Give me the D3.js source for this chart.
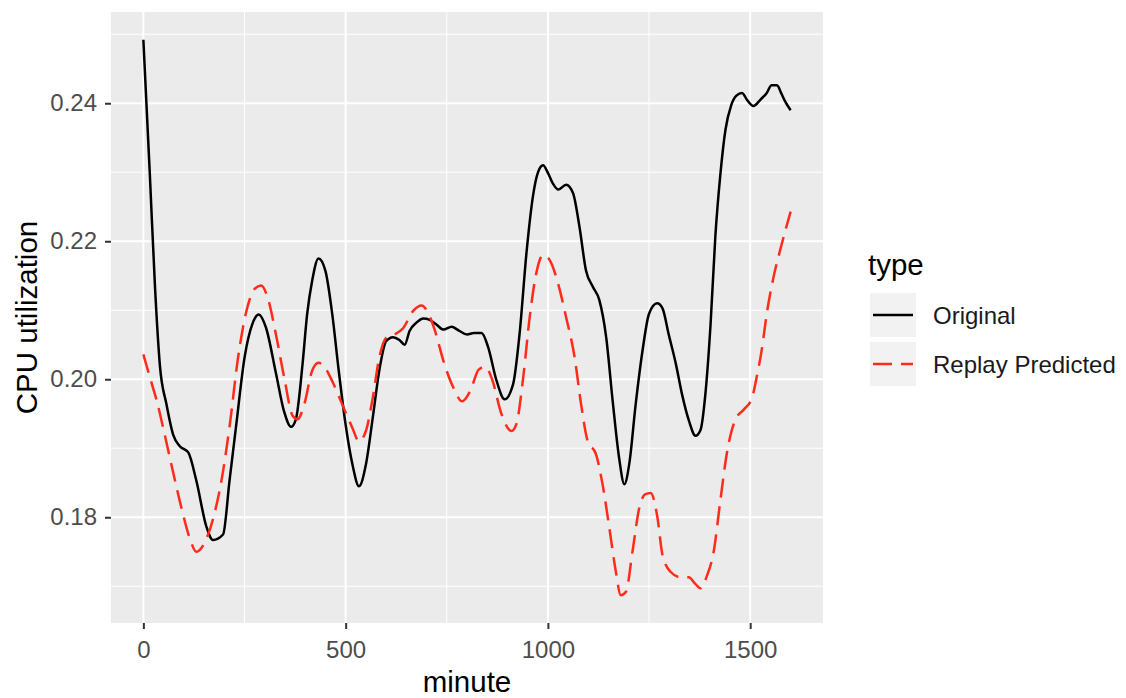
<!DOCTYPE html>
<html>
<head>
<meta charset="utf-8">
<script src="https://cdn.jsdelivr.net/npm/d3@7"></script>
<style>
  body { margin: 0; background: #fff; }
  text { font-family: "Liberation Sans", Arial, sans-serif; }
</style>
</head>
<body>
<div id="wrapper"></div>
<script>
// minute, CPU utilization
const original = [
  [0, 0.2492], [16, 0.2297], [29, 0.2131], [41, 0.2019], [57, 0.1964], [74, 0.1919],
  [90, 0.1903], [111, 0.1894], [131, 0.1853], [156, 0.1786], [172, 0.1767], [197, 0.1775],
  [213, 0.1853], [230, 0.1936], [250, 0.2031], [270, 0.2081], [285, 0.2094], [303, 0.2075],
  [328, 0.2008], [348, 0.1953], [365, 0.1931], [377, 0.1942], [393, 0.2019], [405, 0.2095],
  [417, 0.2142], [433, 0.2175], [450, 0.2157], [467, 0.2094], [483, 0.2012], [500, 0.1934],
  [517, 0.1876], [533, 0.1845], [550, 0.1876], [567, 0.1944], [583, 0.2012], [600, 0.2055],
  [617, 0.2061], [633, 0.2057], [646, 0.2050], [658, 0.2070], [675, 0.2082], [692, 0.2088],
  [708, 0.2086], [725, 0.2079], [742, 0.2072], [762, 0.2076], [779, 0.2071], [800, 0.2065],
  [817, 0.2067], [836, 0.2067], [852, 0.2047], [873, 0.1998], [893, 0.1971], [914, 0.1993],
  [930, 0.2066], [947, 0.2183], [963, 0.2265], [975, 0.2299], [988, 0.2310], [1000, 0.2299],
  [1012, 0.2284], [1026, 0.2275], [1045, 0.2282], [1062, 0.2270], [1078, 0.2221], [1094, 0.2158],
  [1111, 0.2134], [1127, 0.2115], [1144, 0.2061], [1160, 0.1969], [1176, 0.1886], [1189, 0.1848],
  [1201, 0.1877], [1217, 0.1964], [1234, 0.2042], [1250, 0.2095], [1270, 0.2110], [1283, 0.2103],
  [1299, 0.2064], [1316, 0.2023], [1332, 0.1977], [1348, 0.1941], [1365, 0.1918], [1377, 0.1926],
  [1389, 0.1977], [1402, 0.2079], [1414, 0.2208], [1426, 0.2295], [1439, 0.2362], [1453, 0.2397],
  [1466, 0.2411], [1480, 0.2415], [1492, 0.2405], [1508, 0.2396], [1525, 0.2405], [1541, 0.2415],
  [1553, 0.2426], [1566, 0.2426], [1578, 0.2413], [1586, 0.2403], [1600, 0.2390]
];

const replayPredicted = [
  [0, 0.2036], [16, 0.2003], [33, 0.1969], [53, 0.1919], [74, 0.1864], [94, 0.1814],
  [115, 0.1769], [131, 0.1750], [152, 0.1764], [172, 0.1797], [193, 0.1853], [213, 0.1931],
  [234, 0.2031], [254, 0.2097], [275, 0.2131], [291, 0.2136], [307, 0.2119], [328, 0.2064],
  [348, 0.2003], [369, 0.1947], [381, 0.1942], [398, 0.1964], [417, 0.2012], [433, 0.2024],
  [450, 0.2016], [467, 0.1997], [492, 0.1963], [517, 0.1929], [533, 0.1910], [550, 0.1925],
  [567, 0.1973], [583, 0.2031], [600, 0.2060], [621, 0.2065], [642, 0.2074], [667, 0.2099],
  [688, 0.2107], [704, 0.2096], [721, 0.2070], [742, 0.2026], [767, 0.1987], [788, 0.1968],
  [808, 0.1983], [829, 0.2014], [845, 0.2018], [862, 0.2000], [885, 0.1950], [910, 0.1925],
  [922, 0.1935], [939, 0.2003], [955, 0.2090], [971, 0.2153], [988, 0.2180], [1004, 0.2173],
  [1025, 0.2139], [1045, 0.2090], [1066, 0.2032], [1082, 0.1964], [1098, 0.1911], [1119, 0.1891],
  [1135, 0.1848], [1152, 0.1784], [1168, 0.1721], [1180, 0.1687], [1193, 0.1692], [1209, 0.1750],
  [1226, 0.1814], [1240, 0.1833], [1254, 0.1835], [1271, 0.1799], [1283, 0.1746], [1303, 0.1721],
  [1328, 0.1713], [1348, 0.1713], [1365, 0.1703], [1377, 0.1697], [1393, 0.1715], [1410, 0.1751],
  [1426, 0.1823], [1443, 0.1895], [1463, 0.1941], [1484, 0.1956], [1504, 0.1972], [1516, 0.2003],
  [1529, 0.2044], [1541, 0.2095], [1557, 0.2146], [1574, 0.2187], [1600, 0.2243]
];

const seriesNames = ["Original", "Replay Predicted"];
const xTicks = [0, 500, 1000, 1500];
const yTicks = [0.18, 0.20, 0.22, 0.24];

const series = [
  { name: seriesNames[0], values: original, color: "#000000", dash: null },
  { name: seriesNames[1], values: replayPredicted, color: "#FF2A1A", dash: "19,9" }
];

const xAccessor = (d) => d[0];
const yAccessor = (d) => d[1];

let dimensions = {
  width: 1126,
  height: 698,
  margin: { top: 12, right: 303, bottom: 75, left: 111 }
};
dimensions.boundedWidth = dimensions.width - dimensions.margin.left - dimensions.margin.right;
dimensions.boundedHeight = dimensions.height - dimensions.margin.top - dimensions.margin.bottom;

const wrapper = d3.select("#wrapper")
  .append("svg")
  .attr("width", dimensions.width)
  .attr("height", dimensions.height);

const bounds = wrapper.append("g")
  .attr("transform", `translate(${dimensions.margin.left},${dimensions.margin.top})`);

// ggplot-like 5% expansion
const allPoints = original.concat(replayPredicted);
const expand = (ext) => {
  const pad = (ext[1] - ext[0]) * 0.05;
  return [ext[0] - pad, ext[1] + pad];
};

const xScale = d3.scaleLinear()
  .domain(expand(d3.extent(allPoints, xAccessor)))
  .range([0, dimensions.boundedWidth]);

const yScale = d3.scaleLinear()
  .domain(expand(d3.extent(allPoints, yAccessor)))
  .range([dimensions.boundedHeight, 0]);

// panel
bounds.append("rect")
  .attr("width", dimensions.boundedWidth)
  .attr("height", dimensions.boundedHeight)
  .attr("fill", "#EBEBEB");

const xMinor = d3.range(250, 1700, 500).filter((v) => xScale(v) <= dimensions.boundedWidth);
const yMinor = [0.17, 0.19, 0.21, 0.23, 0.25].filter((v) => yScale(v) >= 0);

bounds.append("g").selectAll("line")
  .data(yMinor)
  .join("line")
  .attr("x1", 0).attr("x2", dimensions.boundedWidth)
  .attr("y1", (d) => yScale(d)).attr("y2", (d) => yScale(d))
  .attr("stroke", "#fff").attr("stroke-width", 1);

bounds.append("g").selectAll("line")
  .data(xMinor)
  .join("line")
  .attr("y1", 0).attr("y2", dimensions.boundedHeight)
  .attr("x1", (d) => xScale(d)).attr("x2", (d) => xScale(d))
  .attr("stroke", "#fff").attr("stroke-width", 1);

bounds.append("g").selectAll("line")
  .data(yTicks)
  .join("line")
  .attr("x1", 0).attr("x2", dimensions.boundedWidth)
  .attr("y1", (d) => yScale(d)).attr("y2", (d) => yScale(d))
  .attr("stroke", "#fff").attr("stroke-width", 2);

bounds.append("g").selectAll("line")
  .data(xTicks)
  .join("line")
  .attr("y1", 0).attr("y2", dimensions.boundedHeight)
  .attr("x1", (d) => xScale(d)).attr("x2", (d) => xScale(d))
  .attr("stroke", "#fff").attr("stroke-width", 2);

// lines
const lineGenerator = d3.line()
  .x((d) => xScale(xAccessor(d)))
  .y((d) => yScale(yAccessor(d)))
  .curve(d3.curveMonotoneX);

bounds.selectAll(".series")
  .data(series)
  .join("path")
  .attr("class", "series")
  .attr("d", (d) => lineGenerator(d.values))
  .attr("fill", "none")
  .attr("stroke", (d) => d.color)
  .attr("stroke-width", 2.5)
  .attr("stroke-dasharray", (d) => d.dash);

// axes
const xAxisGenerator = d3.axisBottom(xScale)
  .tickValues(xTicks)
  .tickFormat(d3.format("d"))
  .tickSize(6)
  .tickPadding(12);

const xAxis = bounds.append("g")
  .attr("transform", `translate(0,${dimensions.boundedHeight})`)
  .call(xAxisGenerator);

const yAxisGenerator = d3.axisLeft(yScale)
  .tickValues(yTicks)
  .tickFormat(d3.format(".2f"))
  .tickSize(6)
  .tickPadding(8);

const yAxis = bounds.append("g").call(yAxisGenerator);

[xAxis, yAxis].forEach((axis) => {
  axis.select(".domain").remove();
  axis.selectAll(".tick line").attr("stroke", "#333333").attr("stroke-width", 2);
  axis.selectAll(".tick text")
    .attr("fill", "#4D4D4D")
    .style("font-size", "24px")
    .style("font-family", "'Liberation Sans', Arial, sans-serif");
});

wrapper.append("text")
  .attr("x", dimensions.margin.left + dimensions.boundedWidth / 2)
  .attr("y", 692)
  .attr("text-anchor", "middle")
  .style("font-size", "29.5px")
  .attr("fill", "#000")
  .text("minute");

wrapper.append("text")
  .attr("transform", `translate(37,${dimensions.margin.top + dimensions.boundedHeight / 2}) rotate(-90)`)
  .attr("text-anchor", "middle")
  .style("font-size", "29.5px")
  .attr("fill", "#000")
  .text("CPU utilization");

// legend
const legend = wrapper.append("g").attr("transform", "translate(868,0)");

legend.append("text")
  .attr("x", 0)
  .attr("y", 275)
  .style("font-size", "29.5px")
  .attr("fill", "#000")
  .text("type");

const keys = legend.selectAll(".key")
  .data(series)
  .join("g")
  .attr("class", "key")
  .attr("transform", (d, i) => `translate(2,${293 + i * 49})`);

keys.append("rect")
  .attr("width", 46)
  .attr("height", 44)
  .attr("fill", "#F2F2F2");

keys.append("line")
  .attr("x1", 3).attr("x2", 43)
  .attr("y1", 22).attr("y2", 22)
  .attr("stroke", (d) => d.color)
  .attr("stroke-width", 2.5)
  .attr("stroke-dasharray", (d) => d.dash);

keys.append("text")
  .attr("x", 63)
  .attr("y", 22)
  .attr("dy", "0.36em")
  .style("font-size", "24px")
  .attr("fill", "#1A1A1A")
  .text((d) => d.name);
</script>
</body>
</html>
